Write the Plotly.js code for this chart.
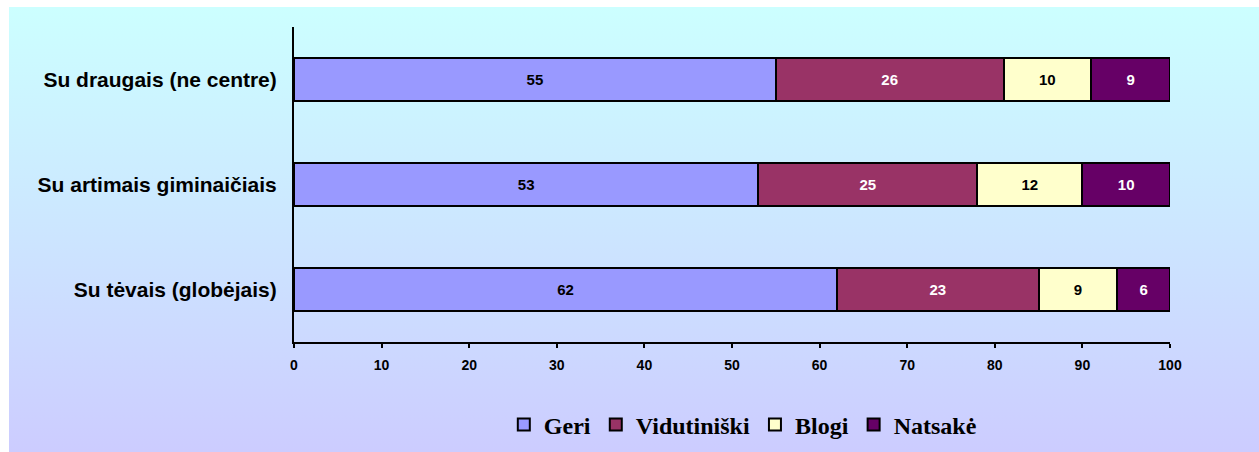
<!DOCTYPE html>
<html>
<head>
<meta charset="utf-8">
<script src="https://cdn.plot.ly/plotly-3.0.1.min.js"></script>
<style>
  html, body { margin: 0; padding: 0; background: #ffffff; }
  #wrap { position: relative; width: 1259px; height: 452px; }
  #bg { position: absolute; left: 9px; top: 7px; right: 0; bottom: 0;
        background: linear-gradient(to bottom, #CCFFFF 0%, #CCE6FF 50%, #CCCCFF 100%); }
  #chart { position: absolute; left: 0; top: 0; width: 1259px; height: 452px; }
</style>
</head>
<body>
<div id="wrap"><div id="bg"></div><div id="chart"></div></div>
<script>
const categories = ["Su tėvais (globėjais)", "Su artimais giminaičiais", "Su draugais (ne centre)"];
const seriesNames = ["Geri", "Vidutiniški", "Blogi", "Natsakė"];
const geri = [62, 53, 55];
const vidutiniski = [23, 25, 26];
const blogi = [9, 12, 10];
const natsake = [6, 10, 9];
const xTicks = [0, 10, 20, 30, 40, 50, 60, 70, 80, 90, 100];

const values = [geri, vidutiniski, blogi, natsake];
const colors = ["#9999FF", "#993366", "#FFFFCC", "#660066"];
const textColors = ["#000000", "#FFFFFF", "#000000", "#FFFFFF"];

const traces = values.map((v, i) => ({
  type: "bar",
  orientation: "h",
  name: seriesNames[i],
  y: categories,
  x: v,
  width: 0.41,
  text: v.map(String),
  textposition: "inside",
  insidetextanchor: "middle",
  textangle: 0,
  textfont: { family: "Liberation Sans, Arial, sans-serif", size: 15, color: textColors[i], weight: "bold" },
  marker: { color: colors[i], line: { color: "#000000", width: 2 } },
  hoverinfo: "none"
}));

const layout = {
  width: 1259,
  height: 452,
  margin: { l: 294, r: 89, t: 27, b: 110 },
  paper_bgcolor: "rgba(0,0,0,0)",
  plot_bgcolor: "rgba(0,0,0,0)",
  barmode: "stack",
  showlegend: true,
  font: { family: "Liberation Sans, Arial, sans-serif", color: "#000000" },
  xaxis: {
    range: [0, 100],
    tickvals: xTicks,
    ticktext: xTicks.map(String),
    showgrid: false,
    zeroline: false,
    showline: true,
    linecolor: "#000000",
    linewidth: 2,
    ticks: "outside",
    ticklen: 4,
    tickwidth: 2,
    tickcolor: "#000000",
    ticklabelstandoff: 5,
    tickfont: { size: 14, weight: "bold", family: "Liberation Sans, Arial, sans-serif" },
    fixedrange: true
  },
  yaxis: {
    type: "category",
    categoryorder: "array",
    categoryarray: categories,
    range: [-0.5, 2.5],
    showgrid: false,
    zeroline: false,
    showline: true,
    linecolor: "#000000",
    linewidth: 2,
    ticks: "",
    ticklabelstandoff: 11,
    tickfont: { size: 21, weight: "bold", family: "Liberation Sans, Arial, sans-serif" },
    fixedrange: true
  },
  legend: {
    orientation: "h",
    xref: "container",
    yref: "container",
    x: 0.59,
    xanchor: "center",
    y: 0.06,
    yanchor: "middle",
    traceorder: "normal",
    font: { family: "Liberation Serif, Times New Roman, serif", size: 24, weight: "bold", color: "#000000" },
    bgcolor: "rgba(0,0,0,0)",
    itemwidth: 30
  }
};

Plotly.newPlot("chart", traces, layout, { displayModeBar: false, staticPlot: true });
</script>
</body>
</html>
